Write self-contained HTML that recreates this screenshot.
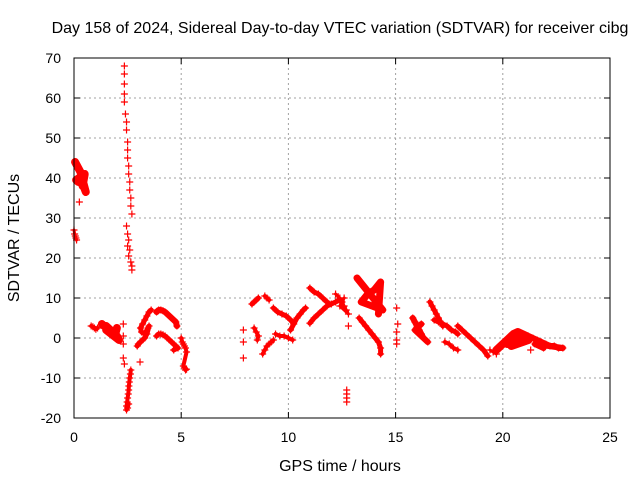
<!DOCTYPE html>
<html><head><meta charset="utf-8"><style>
body{margin:0;background:#fff}
svg{display:block;font-family:"Liberation Sans",sans-serif}
</style></head><body>
<svg id="chart" width="640" height="480">
<text x="340" y="33" text-anchor="middle" font-size="16">Day 158 of 2024, Sidereal Day-to-day VTEC variation (SDTVAR) for receiver cibg</text>
<text x="340" y="471" text-anchor="middle" font-size="16">GPS time / hours</text>
<text transform="translate(19,238) rotate(-90)" text-anchor="middle" font-size="16">SDTVAR / TECUs</text>
<g id="grid"></g><g id="ticks"></g><g id="marks"></g>
<rect x="74" y="58" width="536" height="360" fill="none" stroke="#000" stroke-width="1"/>
</svg>
<script>
const xTicks=[0,5,10,15,20,25];
const yTicks=[-20,-10,0,10,20,30,40,50,60,70];
const tracksT=[
[0.0,0.03,0.06,0.09,0.12],
[0.05,0.1,0.15,0.2,0.25,0.3,0.35,0.4,0.45,0.5,0.55,0.3,0.4,0.5,0.1,0.2],
[0.25],
[2.35,2.35,2.35,2.35,2.35,2.4,2.45,2.45,2.5,2.5,2.5,2.55,2.55,2.6,2.6,2.65,2.65,2.7,2.45,2.5,2.55,2.5,2.6,2.55,2.65,2.7,2.7],
[2.65,2.63,2.6,2.58,2.56,2.55,2.53,2.5,2.48,2.45,2.45,2.5,2.55],
[0.8,0.88,0.95,1.02,1.1],
[1.3,1.4,1.5,1.6,1.7,1.8,1.9,2.0,2.1,1.5,1.7,1.9,2.0],
[2.3,2.3,2.3,2.3,2.35,3.08],
[3.6,3.5,3.4,3.3,3.2,3.1,3.15,3.3,3.45,3.5,3.4,3.3,3.2,3.1,3.0,2.95],
[3.85,3.95,4.05,4.15,4.25,4.35,4.45,4.55,4.65,4.75,4.8],
[3.85,3.95,4.05,4.15,4.25,4.35,4.45,4.55,4.65,4.75,4.85,4.65],
[5.0,5.05,5.1,5.15,5.2,5.25,5.1,5.15,5.2,5.25],
[7.9,7.9,7.9],
[8.3,8.4,8.5,8.6],
[8.9,9.0,9.1],
[8.4,8.5,8.6,8.55],
[8.8,8.9,9.0,9.1,9.2,9.3],
[9.3,9.5,9.7,9.9,10.1,10.2],
[9.4,9.6,9.8,10.0,10.2],
[10.1,10.25,10.4,10.55,10.7,10.8],
[11.0,11.2,11.4,11.6,11.8,11.9],
[11.0,11.2,11.4,11.6,11.8,12.0,12.2,12.4],
[12.2,12.4,12.5,12.6,12.7,12.8,12.4,12.6],
[12.8,12.72,12.72,12.72,12.72],
[13.2,13.35,13.5,13.65,13.8,13.95,14.1,14.25,14.4,13.4,13.7,14.0,14.3,14.2],
[13.3,13.45,13.6,13.75,13.9,14.05,14.2,14.3,14.3],
[15.05,15.05,15.05,15.05,15.1],
[15.8,15.9,16.0,16.1,16.2,16.3,16.4,16.5,15.9,16.2],
[16.6,16.7,16.8,16.9,17.0,17.1,17.2],
[16.8,17.0,17.2,17.4,17.6,17.8,17.9],
[17.3,17.5,17.7,17.9],
[17.9,18.1,18.3,18.5,18.7,18.9,19.1,19.3],
[19.4,19.55,19.7],
[19.7,19.9,20.1,20.3,20.5,20.7,20.9,21.1,21.2,20.4,20.7,20.9,20.2],
[21.2,21.4,21.6,21.8,22.0,22.2,22.4,22.6,22.8,21.5,21.9],
[21.3]
];
const tracksV=[
[27,26,25.5,25,24.5],
[44,43.5,43,42.5,42,41.5,40.5,39.5,38.5,37.5,36.5,40,38,41,39.5,39],
[34],
[68,66,63.5,61,59,56,54,52,49,47,45,43,41,39,37,35,33,31,28,26,24.5,23,22,20.5,19,18,17],
[-8,-9,-10,-11,-12,-13,-14,-15,-16,-17,-18,-17.5,-16.5],
[3,2.8,2.5,2.2,2.5],
[3.5,3,3,2.5,2,1.5,1,0.5,-0.5,2,1.5,0.5,2.5],
[3.5,0.5,-1.5,-5,-6.5,-6],
[7,6.5,5.5,4.5,3.5,2.5,1.5,1,2.5,3,1,0,-0.5,-1,-1.5,-2],
[6.5,7,7,6.8,6.5,6,5.5,5,4.5,4,3],
[0.5,1,1,0.8,0.5,0,-0.5,-1,-1.5,-2,-2.5,-3],
[0,-1,-1.5,-2,-2.5,-3.5,-7,-7.5,-8,-7.8],
[2,-1,-5],
[8.5,9,9.5,10],
[10.5,10,9.5],
[2.5,1.5,0.5,-0.5],
[-4,-3,-2,-1.5,-1,-0.5],
[7.5,6.5,6,5.5,4.5,4],
[1,0.5,0.5,0,-0.5],
[2,3.5,5,6,7,7.5],
[12.5,11.5,11,10,9,8.5],
[3.7,5,6,7,8,8.5,9,9.5],
[11,10,9,8,7,6,8,10],
[3,-13,-14,-15,-16],
[15,14,13,12,11,10,9,8,7,9,11,12,14,6],
[5,4,3,2,1,0,-1,-2.5,-4],
[7.5,1.5,-0.5,-1.5,3.5],
[5,4,3,2,1,0,-0.5,-1,2,3.5],
[9,8,7,6,5,4,3],
[4.5,4,3.5,3,2,1.5,1],
[-1,-1.5,-2.5,-3],
[3,2,1,0,-1,-2,-3,-4.5],
[-3,-3.5,-4],
[-3,-2,-1,0,1,1.5,1,0.5,-0.5,-2,-1,0,-1.5],
[0.5,0,-0.5,-1,-1.5,-2,-2,-2.5,-2.5,-1.5,-2.5],
[-3]
];
const lineW=[3,8,0,0,4,4,8,0,5,6,5,4,0,5,4,4,4,5,4,5,5,5,3,0,7,5,0,6,5,5,4,5,3,8,6,0];
const NS='http://www.w3.org/2000/svg';
const x0=74,x1=610,y0=418,y1=58;
const sx=t=>x0+(t-0)/(25-0)*(x1-x0);
const sy=v=>y0-(v+20)/(70+20)*(y0-y1);
const grid=document.getElementById('grid'),ticks=document.getElementById('ticks'),marks=document.getElementById('marks');
function mk(tag,attrs,parent){const e=document.createElementNS(NS,tag);for(const k in attrs)e.setAttribute(k,attrs[k]);parent.appendChild(e);return e;}
xTicks.forEach(t=>{
  const X=sx(t);
  if(t>0&&t<25){const g=mk('line',{x1:X,x2:X,y1:y1,y2:y0,stroke:'#a0a0a0','stroke-dasharray':'2,3'},grid);
  
  }
  mk('line',{x1:X,x2:X,y1:y0,y2:y0-6,stroke:'#000'},ticks);
  mk('line',{x1:X,x2:X,y1:y1,y2:y1+6,stroke:'#000'},ticks);
  const l=mk('text',{x:X,y:y0+24,'text-anchor':'middle','font-size':'14'},ticks);l.textContent=t;
  
  
});
yTicks.forEach(v=>{
  const Y=sy(v);
  if(v>-20&&v<70){const g=mk('line',{x1:x0,x2:x1,y1:Y,y2:Y,stroke:'#a0a0a0','stroke-dasharray':'2,3'},grid);
  
  }
  mk('line',{x1:x0,x2:x0+6,y1:Y,y2:Y,stroke:'#000'},ticks);
  mk('line',{x1:x1,x2:x1-6,y1:Y,y2:Y,stroke:'#000'},ticks);
  const l=mk('text',{x:x0-13,y:Y+5,'text-anchor':'end','font-size':'14'},ticks);l.textContent=v;
  
  
});
tracksT.forEach((ts,i)=>{
  const vs=tracksV[i];
  const g=mk('g',{},marks);
  
  
  if(lineW[i]>0&&ts.length>1){
    mk('polyline',{points:ts.map((t,j)=>sx(t)+','+sy(vs[j])).join(' '),fill:'none',stroke:'#f00','stroke-width':lineW[i],'stroke-linecap':'round','stroke-linejoin':'round'},g);
  }
  ts.forEach((t,j)=>{
    const X=sx(t),Y=sy(vs[j]);
    const p=mk('path',{d:`M${X-3.5},${Y}H${X+3.5}M${X},${Y-3.5}V${Y+3.5}`,stroke:'#f00','stroke-width':'1.2'},g);
    
    
  });
});
</script>
</body></html>
